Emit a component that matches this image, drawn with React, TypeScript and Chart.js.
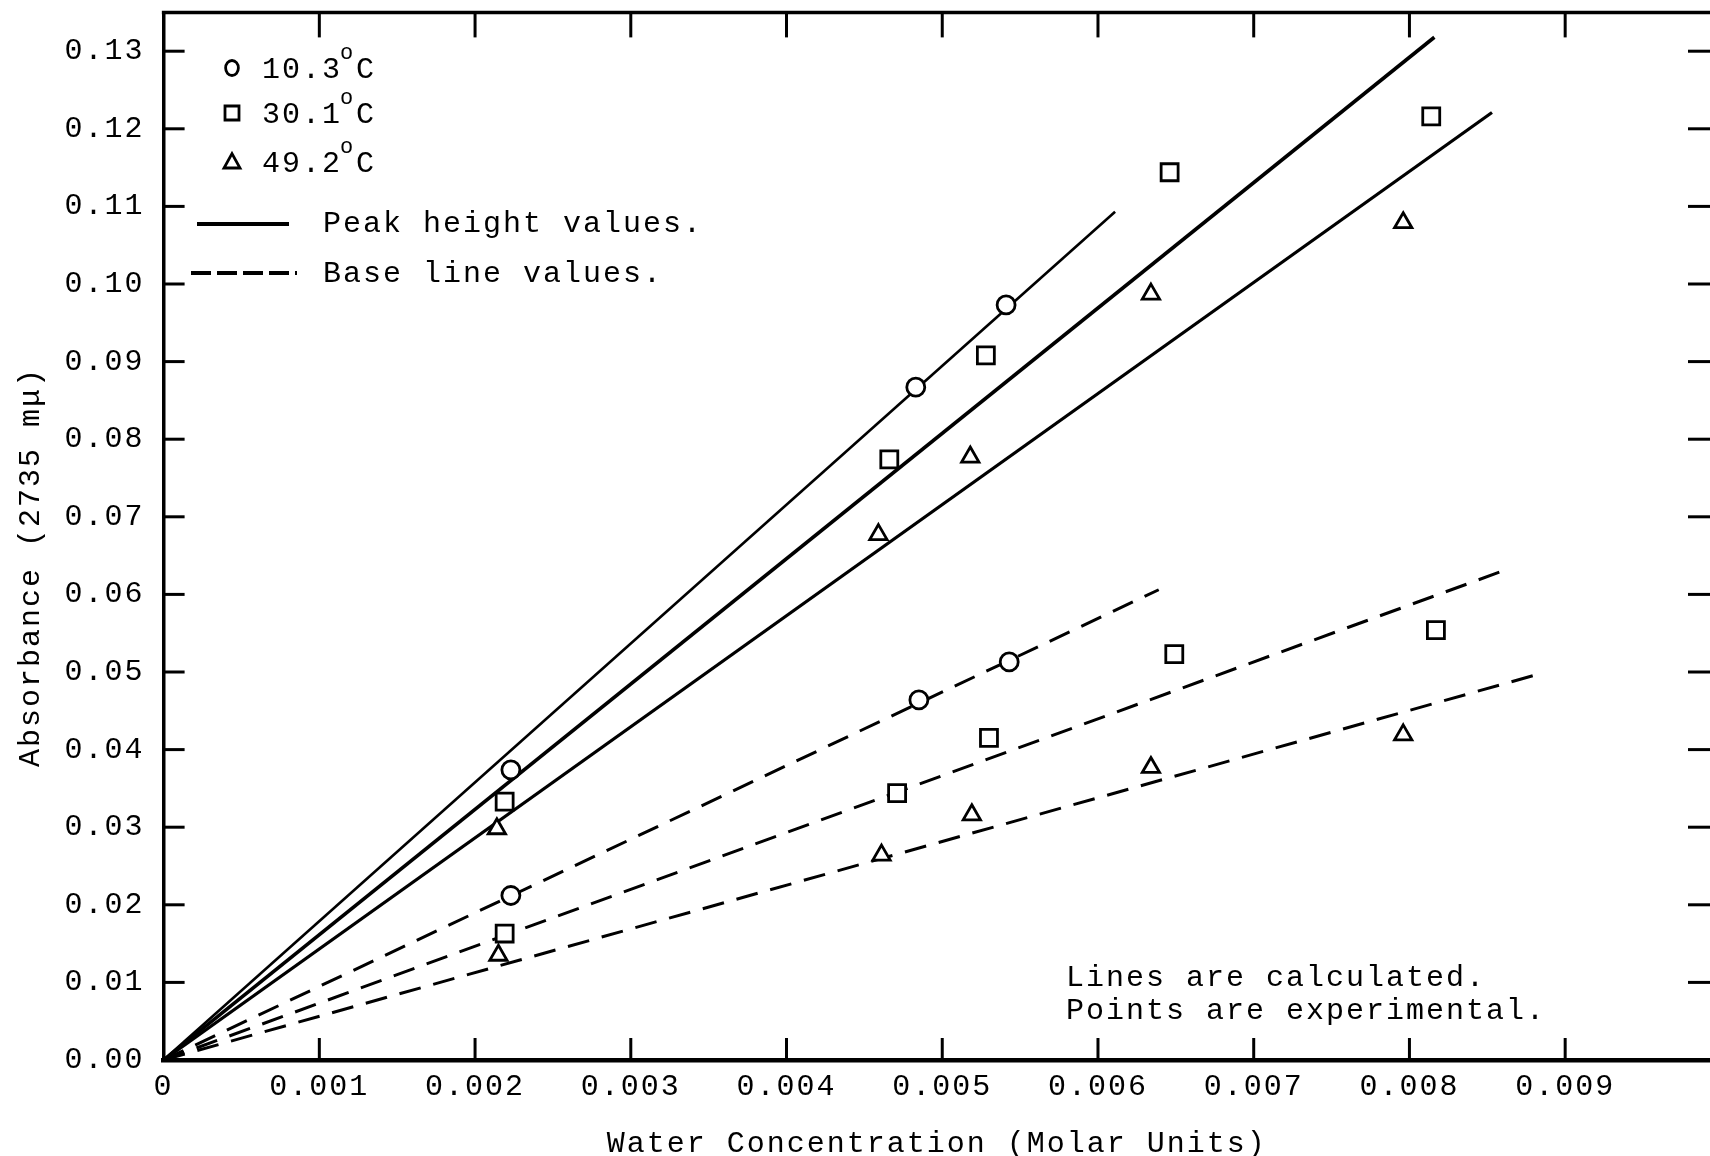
import React, { useEffect, useRef } from 'react';
import { Chart, registerables } from 'chart.js';

Chart.register(...registerables);

// ---------- axis ticks ----------
const X_TICKS = [0, 0.001, 0.002, 0.003, 0.004, 0.005, 0.006, 0.007, 0.008, 0.009];
const X_TICK_LABELS = ['0', '0.001', '0.002', '0.003', '0.004', '0.005', '0.006', '0.007', '0.008', '0.009'];
const Y_TICKS = [0, 0.01, 0.02, 0.03, 0.04, 0.05, 0.06, 0.07, 0.08, 0.09, 0.1, 0.11, 0.12, 0.13];
const Y_TICK_LABELS = ['0.00', '0.01', '0.02', '0.03', '0.04', '0.05', '0.06', '0.07', '0.08', '0.09', '0.10', '0.11', '0.12', '0.13'];

// ---------- experimental points ----------
const T10_PEAK_X = [0.00223, 0.00483, 0.00541];
const T10_PEAK_Y = [0.0374, 0.0867, 0.0973];
const T10_BASE_X = [0.00223, 0.00485, 0.00543];
const T10_BASE_Y = [0.0212, 0.0464, 0.0513];

const T30_PEAK_X = [0.00219, 0.00466, 0.00528, 0.00646, 0.00814];
const T30_PEAK_Y = [0.0333, 0.0774, 0.0908, 0.1144, 0.1216];
const T30_BASE_X = [0.00219, 0.00471, 0.0053, 0.00649, 0.00817];
const T30_BASE_Y = [0.0163, 0.0344, 0.0415, 0.0523, 0.0554];

const T49_PEAK_X = [0.00214, 0.00459, 0.00518, 0.00634, 0.00796];
const T49_PEAK_Y = [0.0298, 0.0677, 0.0777, 0.0987, 0.1079];
const T49_BASE_X = [0.00215, 0.00461, 0.00519, 0.00634, 0.00796];
const T49_BASE_Y = [0.0135, 0.0264, 0.0316, 0.0377, 0.0419];

// ---------- calculated lines (from origin to end point) ----------
const LINE_START = [0, 0];
const T10_PEAK_LINE_END = [0.00611, 0.1093];
const T30_PEAK_LINE_END = [0.00816, 0.1318];
const T49_PEAK_LINE_END = [0.00853, 0.1221];
const T10_BASE_LINE_END = [0.00639, 0.0606];
const T30_BASE_LINE_END = [0.00861, 0.0631];
const T49_BASE_LINE_END = [0.00886, 0.0499];

// ---------- texts ----------
const LEGEND_TEMPS = ['10.3', '30.1', '49.2'];
const LEGEND_LINES = ['Peak height values.', 'Base line values.'];
const NOTE_LINES = ['Lines are calculated.', 'Points are experimental.'];
const X_TITLE = 'Water Concentration (Molar Units)';
const Y_TITLE = 'Absorbance (2735 m\u03bc)';

const X_MAX = 0.00993;
const Y_MAX = 0.135;

const FONT = '"Liberation Mono", "DejaVu Sans Mono", monospace';
const FS = 30;
const SPACING = '2px';

const pts = (xs: number[], ys: number[]) => xs.map((x, i) => ({ x, y: ys[i] }));
const seg = (end: number[]) => [
  { x: LINE_START[0], y: LINE_START[1] },
  { x: end[0], y: end[1] },
];

function drawMarker(ctx: CanvasRenderingContext2D, kind: string, x: number, y: number, r: number) {
  ctx.beginPath();
  if (kind === 'circle') {
    ctx.ellipse(x, y, r * 0.85, r, 0, 0, Math.PI * 2);
  } else if (kind === 'rect') {
    ctx.rect(x - r, y - r, 2 * r, 2 * r);
  } else {
    ctx.moveTo(x, y - r * 1.05);
    ctx.lineTo(x + r, y + r * 0.75);
    ctx.lineTo(x - r, y + r * 0.75);
    ctx.closePath();
  }
  ctx.fillStyle = '#fff';
  ctx.fill();
  ctx.stroke();
}

const decorPlugin = {
  id: 'decor',
  beforeDraw(chart: any) {
    chart.ctx.letterSpacing = SPACING;
  },
  afterDraw(chart: any) {
    const ctx: CanvasRenderingContext2D = chart.ctx;
    const { left, right, top, bottom } = chart.chartArea;
    const xs = chart.scales.x;
    const ys = chart.scales.y;
    const line = (x1: number, y1: number, x2: number, y2: number) => {
      ctx.beginPath();
      ctx.moveTo(x1, y1);
      ctx.lineTo(x2, y2);
      ctx.stroke();
    };
    ctx.save();
    (ctx as any).letterSpacing = SPACING;
    ctx.strokeStyle = '#000';
    ctx.fillStyle = '#000';
    ctx.lineCap = 'butt';

    // top frame line
    ctx.lineWidth = 3.5;
    line(left - 1.75, top, right, top);

    // inward tick marks on all four sides
    ctx.lineWidth = 3;
    Y_TICKS.forEach((v) => {
      if (v === 0) return;
      const py = ys.getPixelForValue(v);
      line(left, py, left + 21, py);
      line(right - 22, py, right, py);
    });
    X_TICKS.forEach((v) => {
      if (v === 0) return;
      const px = xs.getPixelForValue(v);
      line(px, bottom, px, bottom - 22);
      line(px, top, px, top + 25);
    });

    // legend: markers + temperatures
    const kinds = ['circle', 'rect', 'triangle'];
    const rowBase = [78, 123, 172];
    const rowMid = [68, 113, 162];
    ctx.lineWidth = 2.8;
    kinds.forEach((k, i) => {
      drawMarker(ctx, k, 232, rowMid[i], k === 'circle' ? 7.5 : k === 'rect' ? 7 : 8);
    });
    ctx.fillStyle = '#000';
    ctx.textAlign = 'left';
    ctx.textBaseline = 'alphabetic';
    LEGEND_TEMPS.forEach((t, i) => {
      ctx.font = `${FS}px ${FONT}`;
      ctx.fillText(t, 262, rowBase[i]);
      const w = ctx.measureText(t).width;
      ctx.font = `22px ${FONT}`;
      ctx.fillText('o', 262 + w - 2, rowBase[i] - 19);
      ctx.font = `${FS}px ${FONT}`;
      ctx.fillText('C', 262 + w + 14, rowBase[i]);
    });

    // legend: line samples
    ctx.lineWidth = 3.8;
    line(197, 224, 289, 224);
    ctx.setLineDash([20, 6]);
    ctx.lineWidth = 4;
    line(191, 273, 297, 273);
    ctx.setLineDash([]);
    ctx.font = `${FS}px ${FONT}`;
    ctx.fillText(LEGEND_LINES[0], 323, 232);
    ctx.fillText(LEGEND_LINES[1], 323, 282);

    // note
    ctx.fillText(NOTE_LINES[0], 1066, 986);
    ctx.fillText(NOTE_LINES[1], 1066, 1019);

    // axis titles
    ctx.textAlign = 'center';
    ctx.fillText(X_TITLE, (left + right) / 2, 1152);
    ctx.save();
    ctx.translate(39, 567);
    ctx.rotate(-Math.PI / 2);
    ctx.fillText(Y_TITLE, 0, 0);
    ctx.restore();

    ctx.restore();
  },
};

export default function App() {
  const ref = useRef<HTMLCanvasElement | null>(null);

  useEffect(() => {
    if (!ref.current) return;
    document.body.style.margin = '0';
    Chart.defaults.font.family = FONT;
    Chart.defaults.font.size = FS;
    Chart.defaults.color = '#000';

    const pointDs = (data: any[], style: string, radius: number) => ({
      type: 'scatter' as const,
      data,
      pointStyle: style,
      pointRadius: radius,
      pointHoverRadius: radius,
      pointBorderWidth: 2.8,
      pointBackgroundColor: '#fff',
      pointBorderColor: '#000',
      showLine: false,
      order: 0,
    });
    const lineDs = (end: number[], width: number, dashed: boolean) => ({
      type: 'scatter' as const,
      data: seg(end),
      showLine: true,
      borderColor: '#000',
      borderWidth: width,
      borderDash: dashed ? [22, 13] : [],
      pointRadius: 0,
      pointHoverRadius: 0,
      fill: false,
      order: 1,
    });

    const chart = new Chart(ref.current, {
      type: 'scatter',
      data: {
        datasets: [
          pointDs(pts(T10_PEAK_X, T10_PEAK_Y), 'circle', 9),
          pointDs(pts(T10_BASE_X, T10_BASE_Y), 'circle', 9),
          pointDs(pts(T30_PEAK_X, T30_PEAK_Y), 'rect', 12),
          pointDs(pts(T30_BASE_X, T30_BASE_Y), 'rect', 12),
          pointDs(pts(T49_PEAK_X, T49_PEAK_Y), 'triangle', 10),
          pointDs(pts(T49_BASE_X, T49_BASE_Y), 'triangle', 10),
          lineDs(T10_PEAK_LINE_END, 2.6, false),
          lineDs(T30_PEAK_LINE_END, 3.6, false),
          lineDs(T49_PEAK_LINE_END, 3.2, false),
          lineDs(T10_BASE_LINE_END, 3, true),
          lineDs(T30_BASE_LINE_END, 3, true),
          lineDs(T49_BASE_LINE_END, 3, true),
        ] as any,
      },
      options: {
        responsive: false,
        animation: false,
        devicePixelRatio: 1,
        layout: { autoPadding: false, padding: { left: 0, right: 0, top: 12.4, bottom: 0 } },
        plugins: {
          legend: { display: false },
          tooltip: { enabled: false },
        },
        events: [],
        scales: {
          x: {
            type: 'linear',
            min: 0,
            max: X_MAX,
            grid: { display: false, drawTicks: false },
            border: { display: true, color: '#000', width: 4.5 },
            ticks: {
              autoSkip: false,
              maxRotation: 0,
              padding: 9,
              color: '#000',
              font: { family: FONT, size: FS },
              callback: (v: any) => {
                const i = X_TICKS.findIndex((t) => Math.abs(t - Number(v)) < 1e-9);
                return i >= 0 ? X_TICK_LABELS[i] : '';
              },
            },
            afterBuildTicks: (s: any) => {
              s.ticks = X_TICKS.map((value) => ({ value }));
            },
            afterFit: (s: any) => {
              s.height = 96;
              s.paddingLeft = 0;
              s.paddingRight = 0;
              s.paddingTop = 0;
              s.paddingBottom = 0;
            },
          },
          y: {
            type: 'linear',
            min: 0,
            max: Y_MAX,
            grid: { display: false, drawTicks: false },
            border: { display: true, color: '#000', width: 3.5 },
            ticks: {
              autoSkip: false,
              padding: 19,
              color: '#000',
              font: { family: FONT, size: FS },
              callback: (v: any) => {
                const i = Y_TICKS.findIndex((t) => Math.abs(t - Number(v)) < 1e-9);
                return i >= 0 ? Y_TICK_LABELS[i] : '';
              },
            },
            afterBuildTicks: (s: any) => {
              s.ticks = Y_TICKS.map((value) => ({ value }));
            },
            afterFit: (s: any) => {
              s.width = 163.6;
              s.paddingLeft = 0;
              s.paddingRight = 0;
              s.paddingTop = 0;
              s.paddingBottom = 0;
            },
          },
        },
      } as any,
      plugins: [decorPlugin as any],
    });

    return () => chart.destroy();
  }, []);

  return (
    <div style={{ position: 'fixed', left: 0, top: 0, width: 1710, height: 1156, background: '#fff' }}>
      <canvas ref={ref} width={1710} height={1156} style={{ display: 'block', width: 1710, height: 1156 }} />
    </div>
  );
}
